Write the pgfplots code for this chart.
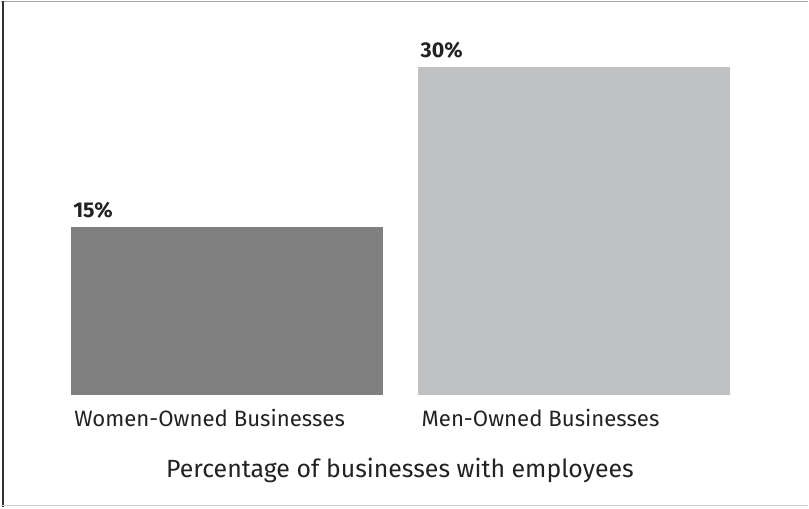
\documentclass[border=0pt]{standalone}
\usepackage{pgfplots}
\pgfplotsset{compat=1.18}
\usepackage{fontspec}
\setmainfont{Fira Sans}
\definecolor{womenbar}{HTML}{808080}
\definecolor{menbar}{HTML}{C0C1C3}
\definecolor{txt}{HTML}{222222}
\begin{document}
\begin{tikzpicture}
\begin{axis}[
  scale only axis,
  width=809bp, height=507bp,
  axis line style={draw=none},
  tick style={draw=none},
  ytick=\empty,
  xmin=-0.6509, xmax=1.6739,
  ymin=-10.21, ymax=36.02,
  ybar, bar width=313bp, bar shift=0pt,
  xtick={0,1},
  xticklabels={Women-Owned Businesses, Men-Owned Businesses},
  xticklabel style={anchor=base west, inner sep=0pt, xshift=-153bp, yshift=80.3bp,
    font=\fontsize{22.3}{26}\selectfont, text=txt},
  major tick length=0pt,
  /pgf/number format/assume math mode=true,
  nodes near coords={\pgfmathprintnumber[fixed,precision=0]{\pgfplotspointmeta}\%},
  every node near coord/.append style={anchor=base west, inner sep=0pt,
    xshift=-154bp, yshift=9.3bp, font=\fontsize{21.5}{24}\bfseries\selectfont, text=txt},
  clip=false,
]
\addplot[fill=womenbar, draw=none] coordinates {(0,15.4)};
\addplot[fill=menbar, draw=none] coordinates {(1,30)};
\draw[draw=gray!70, line width=1.2bp] ([yshift=-0.6bp]rel axis cs:0,1) -- ([yshift=-0.6bp]rel axis cs:1,1);
\draw[draw=black!80, line width=2bp] ([xshift=2.5bp]rel axis cs:0,0) -- ([xshift=2.5bp]rel axis cs:0,1);
\draw[draw=gray!40, line width=1.5bp] ([yshift=1.5bp]rel axis cs:0,0) -- ([yshift=1.5bp]rel axis cs:1,0);
\node[anchor=base, inner sep=0pt, text=txt, font=\fontsize{25}{29}\selectfont]
  at (rel axis cs:0.4944,0.0592) {Percentage of businesses with employees};
\end{axis}
\end{tikzpicture}
\end{document}
